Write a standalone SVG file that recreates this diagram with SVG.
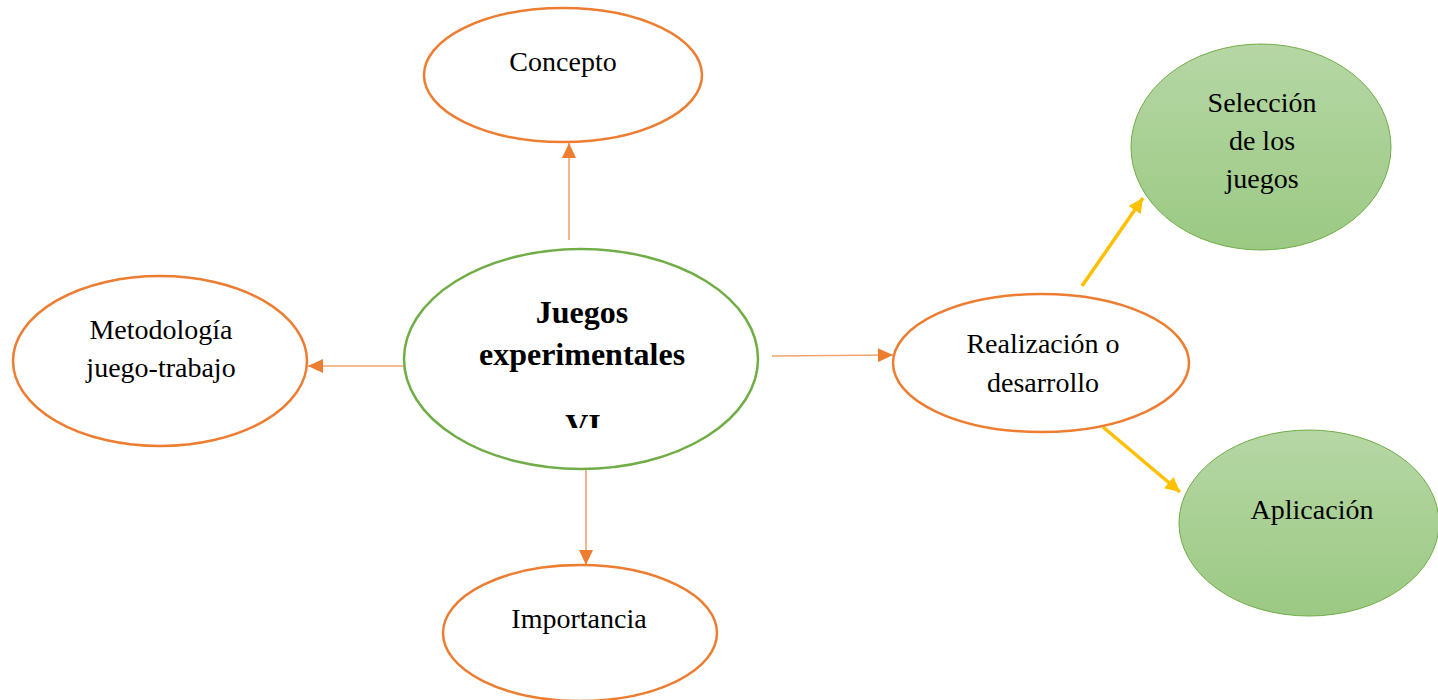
<svg xmlns="http://www.w3.org/2000/svg" width="1438" height="700" viewBox="0 0 1438 700">
<defs>
<linearGradient id="g" x1="0" y1="0" x2="0" y2="1">
<stop offset="0" stop-color="#B6D7A5"/>
<stop offset="1" stop-color="#9BC983"/>
</linearGradient>
<marker id="ao" viewBox="0 0 10 10" refX="10" refY="5" markerWidth="15" markerHeight="14" markerUnits="userSpaceOnUse" orient="auto" preserveAspectRatio="none">
<path d="M0,0 L10,5 L0,10 Z" fill="#ED7D31"/>
</marker>
<marker id="ay" viewBox="0 0 10 10" refX="10" refY="5" markerWidth="4.2" markerHeight="4.2" orient="auto">
<path d="M0,0 L10,5 L0,10 Z" fill="#FFC000"/>
</marker>
<clipPath id="vc"><rect x="400" y="240" width="370" height="188"/></clipPath>
</defs>
<style>
.o{fill:#fff;stroke:#ED7D31;stroke-width:2.5}
.gr{fill:url(#g);stroke:#70AD47;stroke-width:1}
.c{fill:#fff;stroke:#70AD47;stroke-width:2.5}
text{font-family:"Liberation Serif","Times New Roman",serif;font-size:28px;fill:#000;text-anchor:middle}
.b{font-weight:bold;font-size:32px}
.lo{stroke:#F4A46E;stroke-width:1.6;fill:none}
.ly{stroke:#FFC000;stroke-width:3.5;fill:none}
</style>
<g id="connectors">
<line class="lo" x1="569" y1="240" x2="569" y2="143" marker-end="url(#ao)"/>
<line class="lo" x1="404" y1="366" x2="308" y2="366" marker-end="url(#ao)"/>
<line class="lo" x1="586" y1="470" x2="586" y2="565" marker-end="url(#ao)"/>
<line class="lo" x1="772" y1="356" x2="893" y2="355" marker-end="url(#ao)"/>
<line class="ly" x1="1082" y1="286" x2="1143" y2="198" marker-end="url(#ay)"/>
<line class="ly" x1="1103" y1="427" x2="1180" y2="492" marker-end="url(#ay)"/>
</g>
<g id="concepto">
<ellipse class="o" cx="563" cy="75" rx="139" ry="67"/>
<text x="563" y="71">Concepto</text>
</g>
<g id="metodologia">
<ellipse class="o" cx="160" cy="361" rx="147" ry="85"/>
<text x="161" y="339">Metodología</text>
<text x="161" y="377">juego-trabajo</text>
</g>
<g id="juegos">
<ellipse class="c" cx="581" cy="359" rx="177" ry="110"/>
<text class="b" x="582" y="323">Juegos</text>
<text class="b" x="582" y="365">experimentales</text>
<text class="b" x="583" y="436" clip-path="url(#vc)">VI</text>
</g>
<g id="importancia">
<ellipse class="o" cx="580" cy="633" rx="137" ry="68"/>
<text x="579" y="628">Importancia</text>
</g>
<g id="realizacion">
<ellipse class="o" cx="1041" cy="363" rx="148" ry="69"/>
<text x="1043" y="353">Realización o</text>
<text x="1043" y="392">desarrollo</text>
</g>
<g id="seleccion">
<ellipse class="gr" cx="1261" cy="147" rx="130" ry="103"/>
<text x="1262" y="112">Selección</text>
<text x="1262" y="150">de los</text>
<text x="1262" y="188">juegos</text>
</g>
<g id="aplicacion">
<ellipse class="gr" cx="1309" cy="523" rx="130" ry="93"/>
<text x="1312" y="519">Aplicación</text>
</g>
</svg>
